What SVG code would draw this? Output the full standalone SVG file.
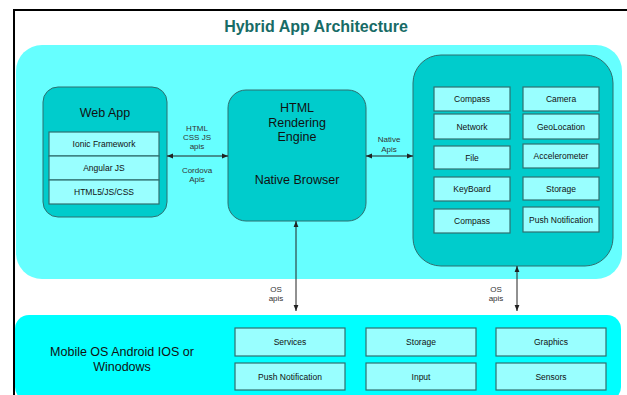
<svg xmlns="http://www.w3.org/2000/svg" width="627" height="395" viewBox="0 0 627 395">
<defs>
<style>
.t{font-family:"Liberation Sans",Arial,sans-serif;fill:#111;text-anchor:middle}
.big{font-size:12.5px}
.sm{font-size:8.5px}
.lbl{font-size:8px;fill:#333}
.box{fill:#00CCCC;stroke:#2F6F6F;stroke-width:1}
.item{fill:#99FFFF;stroke:#2F6F6F;stroke-width:1.2}
.conn{stroke:#222;stroke-width:1;fill:none}
</style>
<marker id="ah" viewBox="0 0 10 10" refX="10" refY="5" markerWidth="6" markerHeight="6" orient="auto-start-reverse" markerUnits="userSpaceOnUse">
<path d="M0,1 L10,5 L0,9 Z" fill="#222"/>
</marker>
</defs>
<rect x="0" y="0" width="627" height="395" fill="#fff"/>
<path d="M14,395 V10 H627" fill="none" stroke="#000" stroke-width="2"/>
<text x="316" y="32" style="font-family:'Liberation Sans',Arial,sans-serif;font-size:16px;font-weight:bold;fill:#176B66;text-anchor:middle">Hybrid App Architecture</text>

<g id="app-layer">
<rect x="16" y="45" width="606" height="234" rx="26" fill="#66FFFF"/>
</g>

<g id="web-app">
<rect class="box" x="43" y="87" width="124" height="130" rx="15"/>
<text class="t big" x="105" y="117">Web App</text>
<rect class="item" x="49" y="132" width="110" height="24"/>
<rect class="item" x="49" y="156" width="110" height="24"/>
<rect class="item" x="49" y="180" width="110" height="24"/>
<text class="t sm" x="104" y="147">Ionic Framework</text>
<text class="t sm" x="104" y="171">Angular JS</text>
<text class="t sm" x="104" y="195">HTML5/JS/CSS</text>
</g>

<g id="rendering-engine">
<rect class="box" x="228" y="90" width="138" height="131" rx="18"/>
<text class="t big" x="297" y="112">HTML</text>
<text class="t big" x="297" y="127">Rendering</text>
<text class="t big" x="297" y="141">Engine</text>
<text class="t big" x="297" y="184">Native Browser</text>
</g>

<g id="native-plugins">
<rect class="box" x="413" y="55" width="200" height="211" rx="28"/>
<rect class="item" x="434" y="87" width="76" height="24"/>
<rect class="item" x="434" y="114" width="76" height="25"/>
<rect class="item" x="434" y="146" width="76" height="23"/>
<rect class="item" x="434" y="177" width="76" height="24"/>
<rect class="item" x="434" y="209" width="76" height="24"/>
<rect class="item" x="523" y="87" width="76" height="24"/>
<rect class="item" x="523" y="114" width="76" height="25"/>
<rect class="item" x="523" y="144" width="76" height="24"/>
<rect class="item" x="523" y="177" width="76" height="23"/>
<rect class="item" x="523" y="207" width="76" height="25"/>
<text class="t sm" x="472" y="102">Compass</text>
<text class="t sm" x="472" y="130">Network</text>
<text class="t sm" x="472" y="161">File</text>
<text class="t sm" x="472" y="192">KeyBoard</text>
<text class="t sm" x="472" y="224">Compass</text>
<text class="t sm" x="561" y="102">Camera</text>
<text class="t sm" x="561" y="130">GeoLocation</text>
<text class="t sm" x="561" y="159">Accelerometer</text>
<text class="t sm" x="561" y="192">Storage</text>
<text class="t sm" x="561" y="223">Push Notification</text>
</g>

<g id="mobile-os">
<rect x="15" y="315" width="606" height="86" rx="14" fill="#00FFFF"/>
<text class="t" style="font-size:12.5px" x="122" y="356">Mobile OS Android IOS or</text>
<text class="t" style="font-size:12.5px" x="122" y="371">Winodows</text>
<rect class="item" x="235" y="328" width="110" height="28"/>
<rect class="item" x="366" y="328" width="110" height="28"/>
<rect class="item" x="496" y="328" width="110" height="28"/>
<rect class="item" x="235" y="363" width="110" height="27"/>
<rect class="item" x="366" y="363" width="110" height="27"/>
<rect class="item" x="496" y="363" width="110" height="27"/>
<text class="t sm" x="290" y="345">Services</text>
<text class="t sm" x="421" y="345">Storage</text>
<text class="t sm" x="551" y="345">Graphics</text>
<text class="t sm" x="290" y="380">Push Notification</text>
<text class="t sm" x="421" y="380">Input</text>
<text class="t sm" x="551" y="380">Sensors</text>
</g>

<g id="connectors">
<line class="conn" x1="167" y1="156" x2="228" y2="156" marker-start="url(#ah)" marker-end="url(#ah)"/>
<line class="conn" x1="366" y1="156" x2="413" y2="156" marker-start="url(#ah)" marker-end="url(#ah)"/>
<line class="conn" x1="296" y1="221" x2="296" y2="311" marker-start="url(#ah)" marker-end="url(#ah)"/>
<line class="conn" x1="517" y1="266" x2="517" y2="311" marker-start="url(#ah)" marker-end="url(#ah)"/>
<text class="t lbl" x="197" y="131">HTML</text>
<text class="t lbl" x="197" y="140">CSS JS</text>
<text class="t lbl" x="197" y="149">apis</text>
<text class="t lbl" x="197" y="173">Cordova</text>
<text class="t lbl" x="197" y="182">Apis</text>
<text class="t lbl" x="389" y="142">Native</text>
<text class="t lbl" x="389" y="152">Apis</text>
<text class="t lbl" x="276" y="292">OS</text>
<text class="t lbl" x="276" y="301">apis</text>
<text class="t lbl" x="496" y="292">OS</text>
<text class="t lbl" x="496" y="301">apis</text>
</g>
</svg>
